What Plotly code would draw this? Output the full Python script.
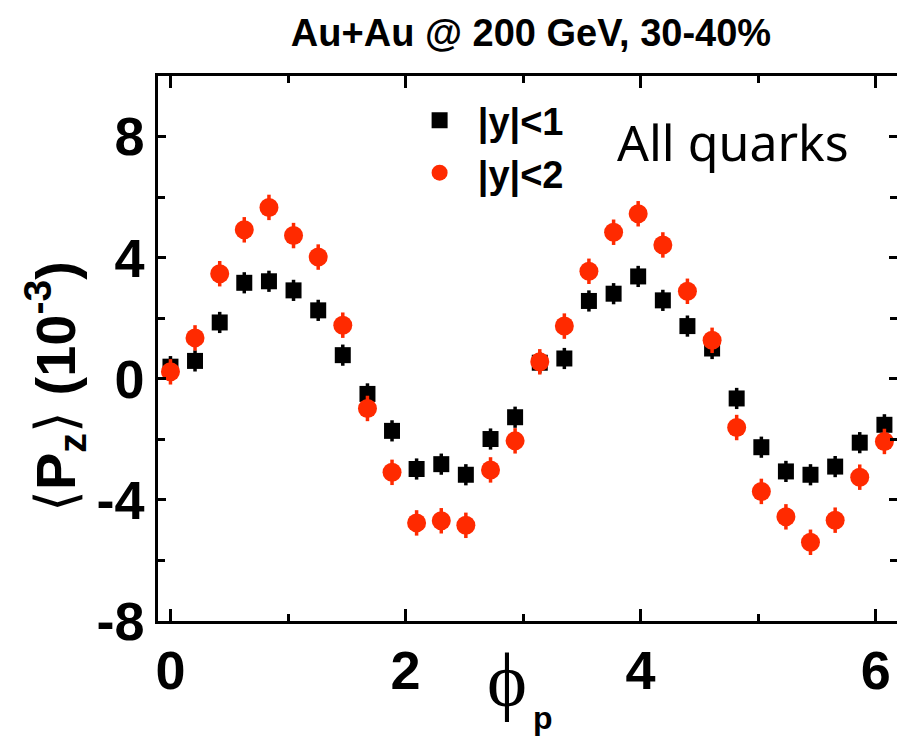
import plotly.graph_objects as go

# azimuthal angle phi_p (rad)
phi = [0.000, 0.209, 0.419, 0.628, 0.838, 1.047, 1.257, 1.466, 1.676, 1.885,
       2.094, 2.304, 2.513, 2.723, 2.932, 3.142, 3.351, 3.560, 3.770, 3.979,
       4.189, 4.398, 4.608, 4.817, 5.027, 5.236, 5.445, 5.655, 5.864, 6.074]

# <P_z> (10^-3), |y|<1
pz_y1 = [0.40, 0.59, 1.86, 3.17, 3.22, 2.92, 2.26, 0.78, -0.50, -1.72,
         -2.98, -2.82, -3.17, -1.99, -1.27, 0.53, 0.67, 2.57, 2.81, 3.38,
         2.59, 1.74, 1.00, -0.65, -2.26, -3.06, -3.17, -2.90, -2.11, -1.52]
err_y1 = [0.35] * 30

# <P_z> (10^-3), |y|<2
pz_y2 = [0.23, 1.35, 3.47, 4.92, 5.66, 4.73, 4.02, 1.77, -0.98, -3.09,
         -4.76, -4.69, -4.84, -3.01, -2.05, 0.56, 1.74, 3.55, 4.84, 5.45,
         4.42, 2.89, 1.27, -1.61, -3.72, -4.56, -5.40, -4.67, -3.25, -2.07]
err_y2 = [0.42] * 30

x_ticks = [0, 2, 4, 6]
y_ticks = [-8, -4, 0, 4, 8]

BLACK = "#000000"
RED = "#ff2a00"
SANS = "Liberation Sans, Arial, Helvetica, sans-serif"
GAP = "\u00a0\u2009"

fig = go.Figure()
fig.add_trace(go.Scatter(
    x=phi, y=pz_y1, mode="markers", name=GAP + "|y|<1",
    marker=dict(symbol="square", size=16, color=BLACK),
    error_y=dict(type="data", array=err_y1, color=BLACK, thickness=3.5, width=0),
))
fig.add_trace(go.Scatter(
    x=phi, y=pz_y2, mode="markers", name=GAP + "|y|<2",
    marker=dict(symbol="circle", size=19, color=RED),
    error_y=dict(type="data", array=err_y2, color=RED, thickness=3.5, width=0),
))

fig.update_layout(
    width=897, height=739,
    margin=dict(l=158, r=0, t=76, b=118, autoexpand=False),
    paper_bgcolor="white", plot_bgcolor="white",
    font=dict(family=SANS, color="black"),
    title=dict(text="Au+Au @ 200 GeV, 30-40%", x=531/897, xanchor="center",
               y=1-33/739, yanchor="middle", xref="container", yref="container",
               font=dict(size=38, weight="bold", family=SANS)),
    showlegend=True,
    legend=dict(x=0.354, y=0.976, xanchor="left", yanchor="top",
                bgcolor="rgba(0,0,0,0)", font=dict(size=38, weight="bold", family=SANS),
                itemsizing="trace"),
)

fig.update_xaxes(
    range=[-0.106, 6.181], tickvals=x_ticks, ticktext=[str(v) for v in x_ticks],
    ticks="inside", ticklen=12, tickwidth=2.5, tickcolor="black",
    showline=True, linecolor="black", linewidth=2.5, mirror="ticks",
    showgrid=False, zeroline=False, automargin=False,
    tickfont=dict(size=54, weight="bold", family=SANS),
    minor=dict(dtick=1, tick0=0, ticks="inside", ticklen=7, tickwidth=2.5, tickcolor="black", showgrid=False),
)
fig.update_yaxes(
    range=[-8, 10], tickvals=y_ticks, ticktext=[str(v) for v in y_ticks],
    ticks="inside", ticklen=8, tickwidth=2.5, tickcolor="black",
    showline=True, linecolor="black", linewidth=2.5, mirror="ticks",
    showgrid=False, zeroline=False, automargin=False,
    tickfont=dict(size=54, weight="bold", family=SANS),
    minor=dict(dtick=2, tick0=0, ticks="inside", ticklen=7, tickwidth=2.5, tickcolor="black", showgrid=False),
)

# y-axis title
fig.add_annotation(
    text="⟨<b>P</b><sub><b>z</b></sub>⟩ <b>(10<sup>-3</sup>)</b>",
    xref="paper", yref="paper", x=(55-158)/739, y=(621-387)/545,
    xanchor="center", yanchor="middle", textangle=-90, showarrow=False,
    font=dict(size=56, family=SANS, color="black"),
)
# x-axis title
fig.add_annotation(
    text="ϕ", xref="paper", yref="paper", x=(507-158)/739, y=(621-680)/545,
    xanchor="center", yanchor="middle", showarrow=False,
    font=dict(size=76, family="Liberation Serif, Times New Roman, serif", color="black"),
)
fig.add_annotation(
    text="p", xref="paper", yref="paper", x=(543-158)/739, y=(621-718)/545,
    xanchor="center", yanchor="middle", showarrow=False,
    font=dict(size=32, family=SANS, weight="bold", color="black"),
)
# in-plot label
fig.add_annotation(
    text="All quarks", xref="paper", yref="paper", x=(733-158)/739, y=(621-142)/545,
    xanchor="center", yanchor="middle", showarrow=False,
    font=dict(size=50, family="Noto Sans, Liberation Sans, sans-serif", color="black"),
)

fig.write_html("out.html")
